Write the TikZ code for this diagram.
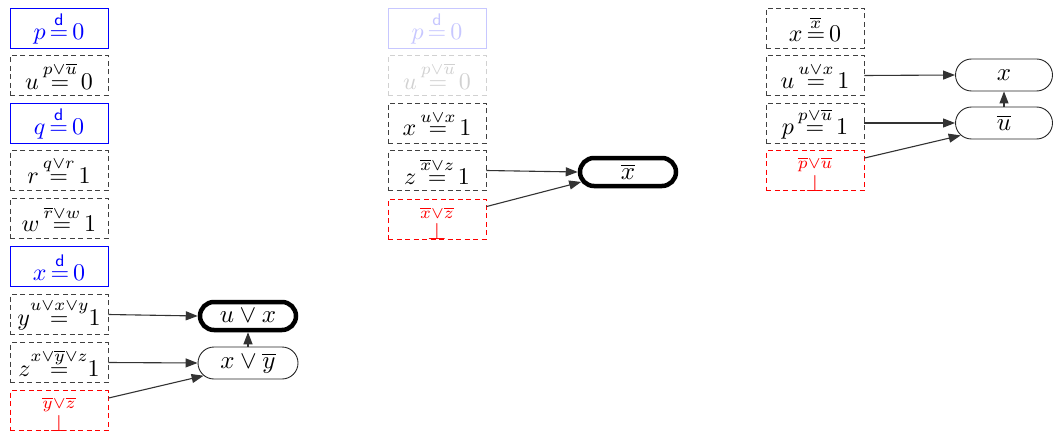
\documentclass[tikz,border=0pt]{standalone}
\usepackage{amsmath,amssymb,graphicx}
\usetikzlibrary{shapes.misc,arrows.meta,calc}
\newcommand{\stk}[2]{{\stackrel{#1}{#2}}}
\newcommand{\bx}[1]{\scalebox{2.4}{$#1$}}
\newcommand{\ex}[1]{\scalebox{2.5}{$#1$}}
\newcommand{\cf}[1]{\scalebox{2.4}{$\stackrel{#1}{\bot}$}}
\begin{document}
\begin{tikzpicture}[x=1pt,y=-1pt,
  box/.style={rectangle,minimum width=98pt,minimum height=40pt,inner sep=0pt,line width=0.9pt},
  dbox/.style={box,draw=blue,text=blue},
  ubox/.style={box,draw=black!75,text=black,dash pattern=on 5pt off 3.5pt},
  cbox/.style={box,draw=red,text=red,dash pattern=on 5pt off 3.5pt,text height=37pt,text depth=0pt},
  fdbox/.style={box,draw=blue!22,text=blue!22},
  fubox/.style={box,draw=black!18,text=black!18,dash pattern=on 5pt off 3.5pt},
  ell/.style={rounded rectangle,draw=black!85,minimum width=100pt,minimum height=32pt,inner sep=0pt,line width=0.9pt},
  thk/.style={ell,draw=black,line width=4.5pt,minimum width=96pt,minimum height=28pt},
  arr/.style={draw=black!80,line width=1.1pt,-{Triangle[length=12pt,width=9pt]}},
]
\useasboundingbox (0,0) rectangle (1054,433);
% column 1
\node[dbox] (a1) at (59,28) {\bx{p\,\stk{\mathsf{d}}{=}\,0}};
\node[ubox] (a2) at (59,75.5) {\bx{u\,\stk{p\vee\overline{u}}{=}\,0}};
\node[dbox] (a3) at (59,123) {\bx{q\,\stk{\mathsf{d}}{=}\,0}};
\node[ubox] (a4) at (59,170.5) {\bx{r\,\stk{q\vee r}{=}\,1}};
\node[ubox] (a5) at (59,218) {\bx{w\,\stk{\overline{r}\vee w}{=}\,1}};
\node[dbox] (a6) at (59,266.5) {\bx{x\,\stk{\mathsf{d}}{=}\,0}};
\node[ubox] (a7) at (59,314.5) {\bx{y\stk{u\vee x\vee y}{=}1}};
\node[ubox] (a8) at (59,362.5) {\bx{z\stk{x\vee\overline{y}\vee z}{=}1}};
\node[cbox] (a9) at (59,410.5) {\cf{\overline{y}\vee\overline{z}}};
\node[thk] (e1) at (248,316) {\ex{u\vee x}};
\node[ell] (e2) at (248,363) {\ex{x\vee\overline{y}}};
\draw[arr] (a7.east) -- (e1.west);
\draw[arr] (a8.east) -- (e2.west);
\coordinate (s1) at ($(a9.north east)+(0,8)$);
\draw[arr] (s1) -- (e2.196);
\draw[arr] (e2.north) -- (e1.south);
% column 2
\node[fdbox] (b1) at (437,28) {\bx{p\,\stk{\mathsf{d}}{=}\,0}};
\node[fubox] (b2) at (437,75.5) {\bx{u\,\stk{p\vee\overline{u}}{=}\,0}};
\node[ubox] (b3) at (437,123) {\bx{x\,\stk{u\vee x}{=}\,1}};
\node[ubox] (b4) at (437,170.5) {\bx{z\,\stk{\overline{x}\vee z}{=}\,1}};
\node[cbox] (b5) at (437,219) {\cf{\overline{x}\vee\overline{z}}};
\node[thk] (f1) at (628,172) {\ex{\overline{x}}};
\draw[arr] (b4.east) -- (f1.west);
\coordinate (s2) at ($(b5.north east)+(0,8)$);
\draw[arr] (s2) -- (f1.192);
% column 3
\node[ubox] (c1) at (815,28) {\bx{x\,\stk{\overline{x}}{=}\,0}};
\node[ubox] (c2) at (815,75.5) {\bx{u\,\stk{u\vee x}{=}\,1}};
\node[ubox] (c3) at (815,123) {\bx{p\,\stk{p\vee\overline{u}}{=}\,1}};
\node[cbox] (c4) at (815,170.5) {\cf{\overline{p}\vee\overline{u}}};
\node[ell,minimum width=97pt] (g1) at (1004,75) {\ex{x}};
\node[ell,minimum width=97pt] (g2) at (1004,123) {\ex{\overline{u}}};
\draw[arr] (c2.east) -- (g1.west);
\draw[arr] (c3.east) -- (g2.west);
\coordinate (s3) at ($(c4.north east)+(0,8)$);
\draw[arr] (s3) -- (g2.196);
\draw[arr] (g2.north) -- (g1.south);
\end{tikzpicture}
\end{document}
